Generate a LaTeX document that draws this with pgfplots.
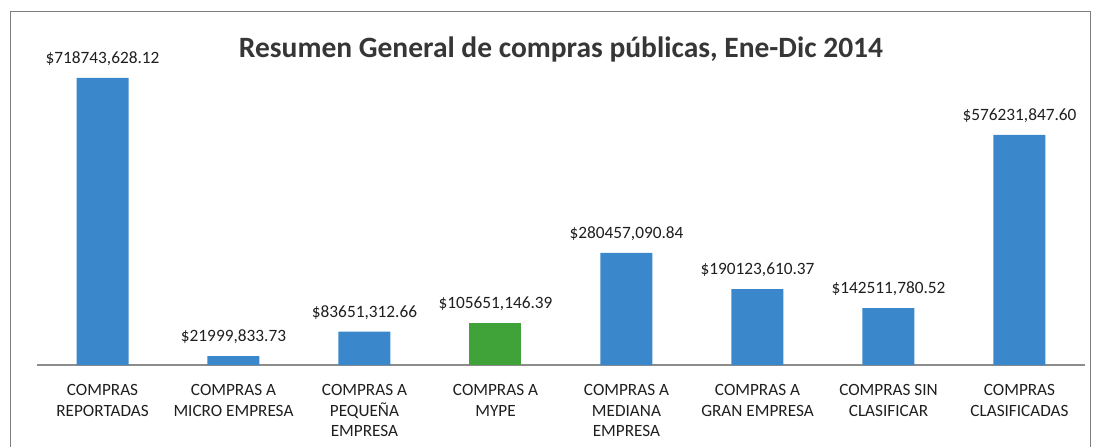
\documentclass[border=0pt]{standalone}
\usepackage{pgfplots}
\pgfplotsset{compat=1.18}
\usepackage{pgfplotstable}
\usepackage{fontspec}
\setmainfont{Carlito}
\definecolor{barblue}{HTML}{3A88CB}
\definecolor{bargreen}{HTML}{3FA33A}
\definecolor{txt}{HTML}{1F1F1F}
\definecolor{titlec}{HTML}{363636}
\definecolor{framec}{HTML}{808080}
\definecolor{axisgray}{HTML}{8C8C8C}

\pgfplotstableread{
x y label
0 718743628.12 {\$718743,628.12}
1 21999833.73 {\$21999,833.73}
2 83651312.66 {\$83651,312.66}
4 280457090.84 {\$280457,090.84}
5 190123610.37 {\$190123,610.37}
6 142511780.52 {\$142511,780.52}
7 576231847.60 {\$576231,847.60}
}\bluedata

\pgfplotstableread{
x y label
3 105651146.39 {\$105651,146.39}
}\greendata

\begin{document}
\begin{tikzpicture}[x=1pt,y=1pt]
\useasboundingbox (0pt,0pt) rectangle (1095pt,-447pt);
\draw[framec, line width=1pt] (10pt,-11pt) rectangle (1090pt,-470pt);
\node[font=\bfseries\fontsize{29.5}{34}\selectfont, text=titlec] at (561pt,-49pt) {Resumen General de compras públicas, Ene-Dic 2014};
\begin{axis}[
  at={(37pt,-365pt)}, anchor=south west,
  scale only axis, width=1048pt, height=319.5pt,
  xmin=-0.5, xmax=7.5, ymin=0, ymax=800000000,
  axis y line=none, axis x line*=bottom,
  x axis line style={line width=1.3pt, color=axisgray, -},
  ytick=\empty,
  xtick={0,...,7},
  xticklabels={{COMPRAS\\REPORTADAS},{COMPRAS A\\MICRO EMPRESA},{COMPRAS A\\PEQUEÑA\\EMPRESA},{COMPRAS A\\MYPE},{COMPRAS A\\MEDIANA\\EMPRESA},{COMPRAS A\\GRAN EMPRESA},{COMPRAS SIN\\CLASIFICAR},{COMPRAS\\CLASIFICADAS}},
  major tick length=0pt,
  xticklabel style={align=center, font=\fontsize{17.2}{20.3}\selectfont, text=txt, yshift=-16pt},
  ybar, bar width=52pt, bar shift=0pt,
  nodes near coords, point meta=explicit symbolic,
  nodes near coords style={font=\fontsize{17.3}{20}\selectfont, text=txt, anchor=base, yshift=14.5pt},
  clip=false,
]
\addplot[fill=barblue, draw=none] table[x=x, y=y, meta=label] {\bluedata};
\addplot[fill=bargreen, draw=none] table[x=x, y=y, meta=label] {\greendata};
\end{axis}
\end{tikzpicture}
\end{document}
